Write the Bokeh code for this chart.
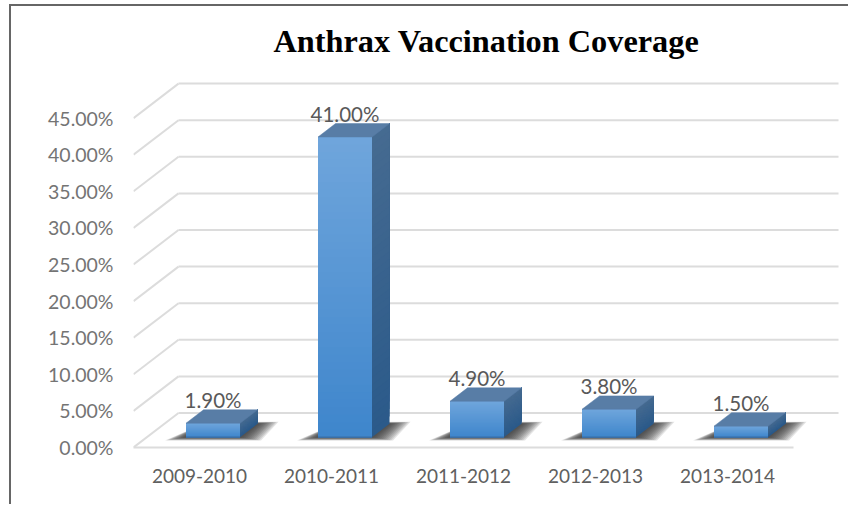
from bokeh.plotting import figure
from bokeh.models import FixedTicker, PrintfTickFormatter, Range1d
from bokeh.core.properties import value
from bokeh.embed import file_html
from bokeh.resources import INLINE

title = "Anthrax Vaccination Coverage"
categories = ["2009-2010", "2010-2011", "2011-2012", "2012-2013", "2013-2014"]
coverage = [1.9, 41.0, 4.9, 3.8, 1.5]
coverage_labels = ["1.90%", "41.00%", "4.90%", "3.80%", "1.50%"]
y_ticks = [0, 5, 10, 15, 20, 25, 30, 35, 40, 45]

W, H = 850, 506
OX, OY = 11, 6                    # where the ruled picture area starts
LEFT, RIGHT, TOP, BOTTOM = 133, 850, 70, 447
PX_X, PX_Y = 132.0, 7.32          # pixels per category / per percent
DX, DY = 45 / PX_X, 34.5 / PX_Y   # oblique depth vector of the 3-D floor
BAR_W, D0, D1 = 54 / PX_X, 0.30, 0.69
N_BANDS = 40
N_SHADOW = 12


def lerp(a, b, t):
    return "#%02x%02x%02x" % tuple(round(a[i] + (b[i] - a[i]) * t) for i in range(3))


p = figure(width=W - OX, height=H - OY, output_backend="svg", toolbar_location=None,
           x_range=Range1d(0, (RIGHT - LEFT) / PX_X), y_range=Range1d(0, (BOTTOM - TOP) / PX_Y),
           min_border_left=LEFT - OX, min_border_right=W - RIGHT, min_border_top=TOP - OY,
           min_border_bottom=H - BOTTOM, margin=(OY, 0, 0, OX),
           styles={"box-shadow": "-2px -2px 0 #666666"})
p.outline_line_color = None
p.grid.visible = False
p.background_fill_color = "white"
p.border_fill_color = "white"

p.title.text = title
p.title.text_font = "Liberation Serif"
p.title.text_font_style = "bold"
p.title.text_font_size = "32.3px"
p.title.text_color = "#000000"
p.title.align = "left"
p.title.offset = 140
p.title.standoff = 23

ax = p.yaxis[0]
ax.ticker = FixedTicker(ticks=y_ticks)
ax.formatter = PrintfTickFormatter(format="%.2f%%")
ax.axis_line_color = None
ax.major_tick_line_color = None
ax.minor_tick_line_color = None
ax.major_label_text_font = "Lato"
ax.major_label_text_font_size = "19.5px"
ax.major_label_text_color = "#747474"
ax.major_label_standoff = 14

bx = p.xaxis[0]
bx.ticker = FixedTicker(ticks=[i + 0.5 for i in range(len(categories))])
bx.major_label_overrides = {i + 0.5: c for i, c in enumerate(categories)}
bx.axis_line_color = "#dcdcdc"
bx.axis_line_width = 2
bx.bounds = (0, len(categories))
bx.major_tick_line_color = None
bx.minor_tick_line_color = None
bx.major_label_text_font = "Lato"
bx.major_label_text_font_size = "19px"
bx.major_label_text_color = "#606060"
bx.major_label_standoff = 15

# back wall and left wall gridlines
for t in y_ticks:
    p.line([DX, len(categories) + DX], [t + DY, t + DY], line_color="#dcdcdc", line_width=2)
    p.line([0, DX], [t, t + DY], line_color="#dcdcdc", line_width=2)

for i, v in enumerate(coverage):
    x0 = i + 0.5 - BAR_W / 2 + D0 * DX
    x1 = x0 + BAR_W
    dd = D1 - D0
    base = D0 * DY
    ox, oy = dd * DX, dd * DY

    # floor shadow: soft layers, widest first
    for n in range(N_SHADOW):
        k = 1 - n / N_SHADOW
        s = 21 / PX_X * k
        d = 0.45 * k
        p.patch([x0 - s, x0, x1 + s, x1 + ox + s, x1 + ox, x0 + ox],
                [base - d, base - d, base - d, base + oy + 0.25 * k, base + oy + 0.25 * k, base + oy],
                fill_color="#303030", fill_alpha=0.13, line_color=None)

    # front and side faces: vertical gradient, painted bottom-up without seams
    for b in range(N_BANDS):
        f0 = b / N_BANDS
        colour = lerp((0x3f, 0x86, 0xcc), (0x70, 0xa6, 0xdc), f0)
        p.quad(left=x0, right=x1, bottom=base + v * f0, top=base + v,
               fill_color=colour, line_color=None)
        side = lerp((0x2b, 0x5a, 0x8a), (0x46, 0x6b, 0x91), f0)
        p.patch([x1, x1 + ox, x1 + ox, x1],
                [base + v * f0, base + v * f0 + oy, base + v + oy, base + v],
                fill_color=side, line_color=None)
    # top face
    p.patch([x0, x1, x1 + ox, x0 + ox], [base + v, base + v, base + v + oy, base + v + oy],
            fill_color="#587da6", line_color="#587da6", line_width=0.5)
    # dark foot of the front face
    p.line([x0, x1], [base, base], line_color="#3a6ea5", line_width=1.5)

    p.text(x=[i + 0.5 + D0 * DX], y=[base + v + oy], text=[coverage_labels[i]], y_offset=-10,
           text_align="center", text_baseline="middle", text_font=value("Lato"),
           text_font_size="20.5px", text_color="#595959")

open("out.html", "w").write(file_html(p, INLINE))
